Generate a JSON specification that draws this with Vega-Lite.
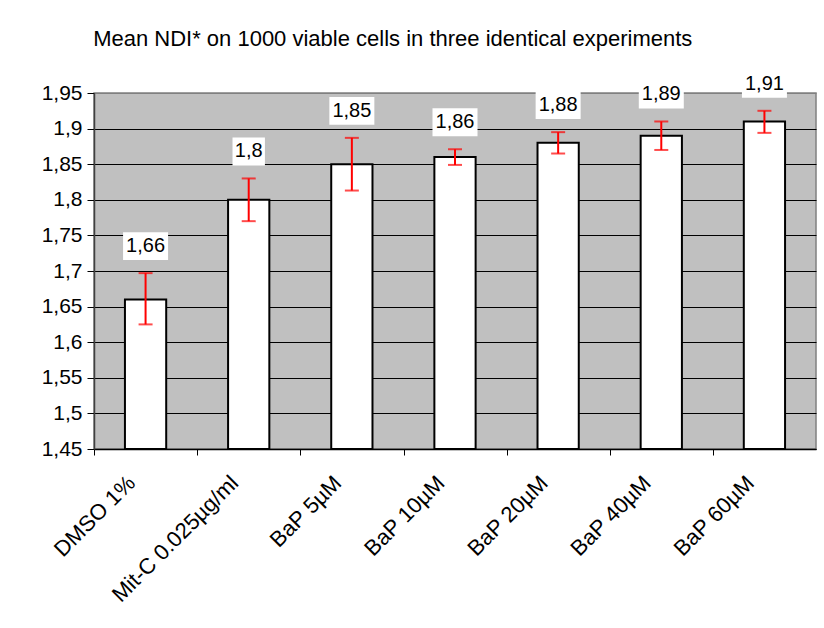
{
  "$schema": "https://vega.github.io/schema/vega-lite/v6.json",
  "width": 722,
  "height": 356,
  "autosize": {"type": "none"},
  "padding": {"left": 94, "top": 93, "right": 8, "bottom": 179},
  "background": "white",
  "title": {
    "text": "Mean NDI* on 1000 viable cells in three identical experiments",
    "anchor": "start",
    "font": "Liberation Sans",
    "fontSize": 22,
    "fontWeight": "normal",
    "color": "black",
    "offset": 19,
    "dx": 52
  },
  "config": {
    "locale": {"number": {"decimal": ",", "thousands": ".", "grouping": [3], "currency": ["", ""]}},
    "view": {"fill": "#C0C0C0", "stroke": "#808080", "strokeWidth": 1.5},
    "axis": {"labelFont": "Liberation Sans", "labelColor": "black", "titleFont": "Liberation Sans"}
  },
  "data": {
    "values": [
      {"cat": "DMSO 1%", "value": 1.66, "lo": 1.625, "hi": 1.697},
      {"cat": "Mit-C 0.025µg/ml", "value": 1.8, "lo": 1.770, "hi": 1.830},
      {"cat": "BaP 5µM", "value": 1.85, "lo": 1.813, "hi": 1.887},
      {"cat": "BaP 10µM", "value": 1.86, "lo": 1.849, "hi": 1.871},
      {"cat": "BaP 20µM", "value": 1.88, "lo": 1.865, "hi": 1.895},
      {"cat": "BaP 40µM", "value": 1.89, "lo": 1.870, "hi": 1.910},
      {"cat": "BaP 60µM", "value": 1.91, "lo": 1.894, "hi": 1.925}
    ]
  },
  "encoding": {
    "x": {
      "field": "cat",
      "type": "nominal",
      "sort": null,
      "scale": {"paddingInner": 0.6, "paddingOuter": 0.3},
      "axis": {
        "title": null,
        "labelAngle": -45,
        "labelAlign": "right",
        "labelBaseline": "middle",
        "labelFontSize": 22,
        "labelPadding": 24,
        "tickOffset": -51.5,
        "labelOffset": 37,
        "labelOverlap": false,
        "ticks": true,
        "tickColor": "black",
        "tickSize": 6,
        "tickWidth": 1,
        "domainColor": "black",
        "domainWidth": 1.5,
        "grid": false
      }
    }
  },
  "layer": [
    {
      "mark": {"type": "bar", "fill": "white", "stroke": "black", "strokeWidth": 2},
      "encoding": {
        "y": {
          "field": "value",
          "type": "quantitative",
          "scale": {"domain": [1.45, 1.95], "zero": false, "nice": false},
          "axis": {
            "title": null,
            "values": [1.45, 1.5, 1.55, 1.6, 1.65, 1.7, 1.75, 1.8, 1.85, 1.9, 1.95],
            "tickCount": 20,
            "format": ".3~g",
            "labelFontSize": 21,
            "labelPadding": 5,
            "labelOverlap": false,
            "tickSize": 7,
            "tickColor": "black",
            "domainColor": "#404040",
            "domainWidth": 1.5,
            "grid": true,
            "gridColor": {"condition": {"test": "datum.value > 1.94", "value": "#808080"}, "value": "black"},
            "gridWidth": 1
          }
        },
        "y2": {"datum": 1.45}
      }
    },
    {
      "mark": {"type": "rule", "color": "#FF0000", "strokeWidth": 2},
      "encoding": {
        "y": {"field": "lo", "type": "quantitative"},
        "y2": {"field": "hi"}
      }
    },
    {
      "mark": {"type": "tick", "color": "#FF0000", "size": 14, "thickness": 2, "orient": "horizontal"},
      "encoding": {"y": {"field": "lo", "type": "quantitative"}}
    },
    {
      "mark": {"type": "tick", "color": "#FF0000", "size": 14, "thickness": 2, "orient": "horizontal"},
      "encoding": {"y": {"field": "hi", "type": "quantitative"}}
    },
    {
      "mark": {"type": "point", "filled": true, "fill": "white", "opacity": 1, "strokeWidth": 0, "yOffset": -27},
      "encoding": {
        "y": {"field": "hi", "type": "quantitative"},
        "size": {"value": 2025},
        "shape": {
          "condition": {"test": "datum.value == 1.8", "value": "M-0.72,-0.62H0.72V0.62H-0.72Z"},
          "value": "M-1,-0.62H1V0.62H-1Z"
        }
      }
    },
    {
      "mark": {"type": "text", "font": "Liberation Sans", "fontSize": 20, "color": "black", "baseline": "middle", "yOffset": -27},
      "encoding": {
        "y": {"field": "hi", "type": "quantitative"},
        "text": {"field": "value", "type": "quantitative", "format": ".3~g"}
      }
    }
  ]
}
